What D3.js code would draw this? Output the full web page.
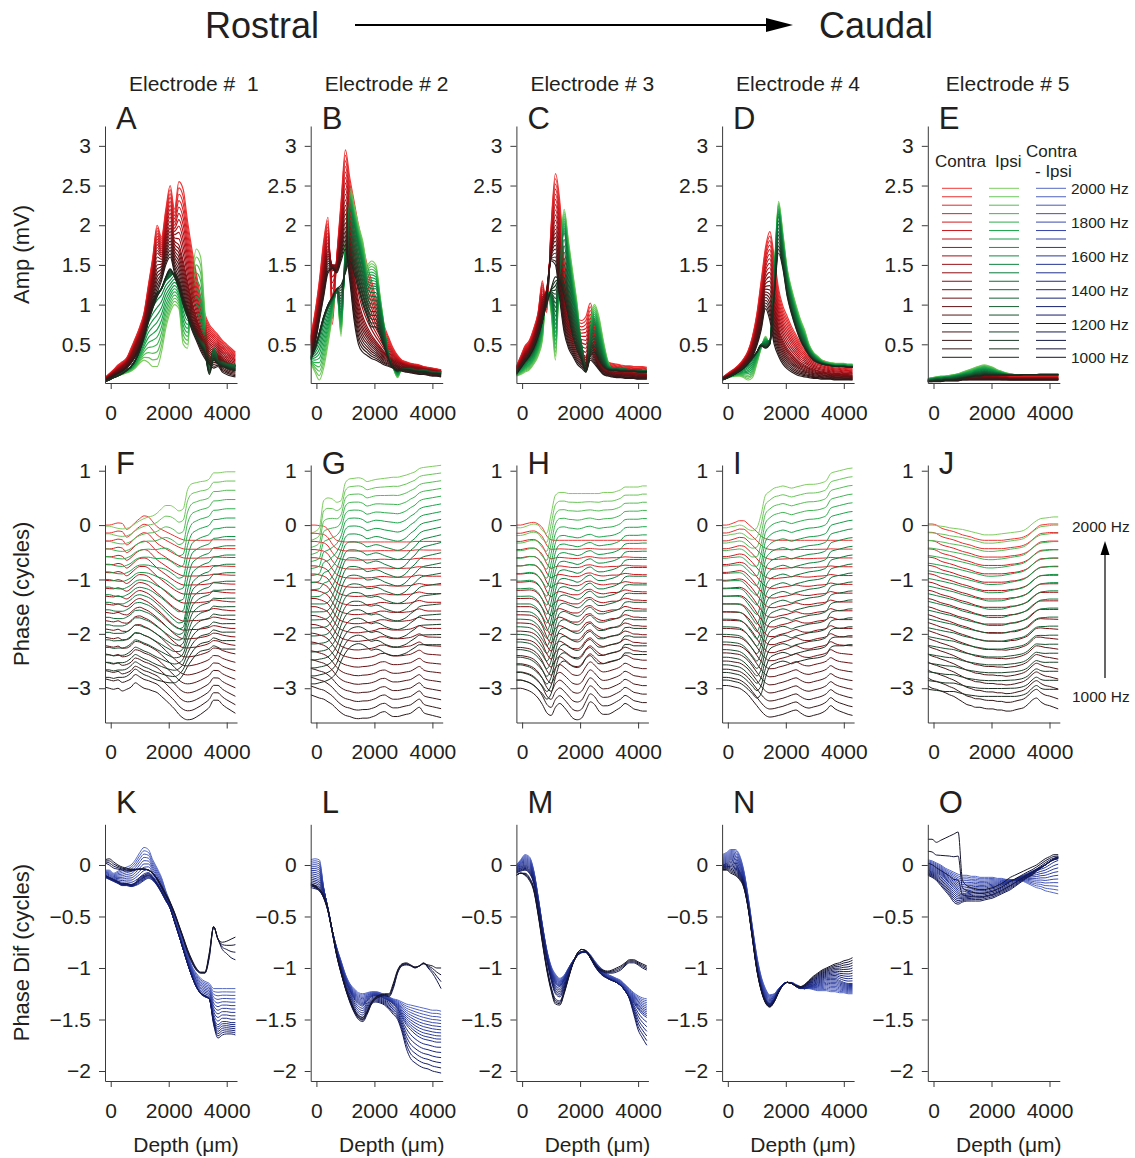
<!DOCTYPE html>
<html>
<head>
<meta charset="utf-8">
<script src="https://cdn.jsdelivr.net/npm/d3@7"></script>
<style>
  body { margin: 0; background: #fff; }
  svg { display: block; font-family: "Liberation Sans", Arial, sans-serif; }
</style>
</head>
<body>
<svg id="chart" width="1135" height="1158"></svg>
<script>
// depth sampling (um) shared by every curve
const depthGrid = [-200,-50,100,250,400,550,700,850,1000,1150,1300,1450,1600,1750,1900,2050,2200,2350,2500,2650,2800,2950,3100,3250,3400,3550,3700,3850,4000,4150,4300];
const freqs = [2000,1950,1900,1850,1800,1750,1700,1650,1600,1550,1500,1450,1400,1350,1300,1250,1200,1150,1100,1050,1000];
const electrodes = ["Electrode #  1","Electrode # 2","Electrode # 3","Electrode # 4","Electrode # 5"];
const ampTicks = [0.5,1,1.5,2,2.5,3];
const phaseTicks = [1,0,-1,-2,-3];
const diffTicks = [0,-0.5,-1,-1.5,-2];
const depthTicks = [0,2000,4000];
const legendHz = [2000,1800,1600,1400,1200,1000];

// ---- amplitude (mV), contra / ipsi
const A_c2000 = [0.08,0.13,0.18,0.24,0.28,0.33,0.45,0.58,0.72,0.9,1.25,1.6,2.0,1.85,2.2,2.5,2.2,2.55,2.45,2.05,1.7,1.4,1.1,0.88,0.75,0.68,0.62,0.55,0.5,0.45,0.4];
const A_c1500 = [0.06,0.1,0.14,0.18,0.22,0.27,0.36,0.48,0.6,0.78,1.05,1.35,1.65,1.6,1.85,2.0,1.8,1.75,1.55,1.3,1.05,0.85,0.68,0.55,0.48,0.44,0.4,0.34,0.3,0.26,0.24];
const A_c1000 = [0.04,0.07,0.1,0.13,0.16,0.2,0.26,0.34,0.45,0.6,0.8,1.0,1.15,1.3,1.5,1.6,1.4,1.25,1.05,0.85,0.68,0.55,0.42,0.32,0.25,0.2,0.22,0.15,0.12,0.1,0.09];
const A_i2000 = [0.04,0.06,0.08,0.1,0.12,0.14,0.16,0.2,0.26,0.3,0.27,0.22,0.22,0.4,0.7,0.9,1.0,0.95,0.5,0.45,1.3,1.7,1.6,0.9,0.35,0.3,0.35,0.28,0.25,0.24,0.22];
const A_i1500 = [0.04,0.06,0.09,0.12,0.15,0.18,0.22,0.3,0.45,0.65,0.9,1.05,1.15,1.2,1.3,1.35,1.4,1.3,1.1,0.95,0.8,0.7,0.6,0.5,0.25,0.45,0.35,0.3,0.27,0.25,0.24];
const A_i1000 = [0.03,0.05,0.08,0.1,0.13,0.17,0.22,0.3,0.42,0.58,0.78,0.95,1.1,1.2,1.35,1.45,1.35,1.2,1.0,0.85,0.7,0.58,0.48,0.38,0.12,0.3,0.25,0.22,0.2,0.18,0.17];

const B_c2000 = [0.6,0.9,1.3,1.8,2.1,0.75,1.6,2.3,2.95,2.6,2.3,2.0,1.75,1.5,1.3,1.08,0.9,0.72,0.58,0.45,0.36,0.3,0.28,0.26,0.25,0.24,0.22,0.21,0.2,0.19,0.18];
const B_c1500 = [0.5,0.7,1.0,1.4,1.7,1.5,1.5,1.9,2.25,1.9,1.4,1.05,0.85,0.72,0.62,0.54,0.47,0.4,0.35,0.3,0.27,0.25,0.23,0.22,0.21,0.2,0.19,0.18,0.17,0.16,0.15];
const B_c1000 = [0.35,0.5,0.8,1.1,1.4,1.45,1.4,1.55,1.7,1.3,0.8,0.5,0.4,0.36,0.32,0.3,0.27,0.24,0.22,0.2,0.18,0.16,0.15,0.14,0.13,0.12,0.12,0.11,0.1,0.1,0.09];
const B_i2000 = [0.26,0.15,0.05,0.2,0.5,0.85,1.2,0.6,1.8,2.5,2.25,2.0,1.8,1.5,1.55,1.5,1.1,0.7,0.35,0.2,0.08,0.2,0.22,0.22,0.21,0.2,0.2,0.19,0.18,0.17,0.16];
const B_i1500 = [0.35,0.45,0.6,0.8,0.95,1.05,1.15,0.9,1.6,2.2,2.0,1.75,1.5,1.25,1.2,1.2,0.95,0.65,0.35,0.22,0.15,0.2,0.2,0.2,0.19,0.18,0.18,0.17,0.16,0.15,0.15];
const B_i1000 = [0.3,0.45,0.65,0.85,1.0,1.1,1.2,1.25,1.4,1.55,1.4,1.2,1.0,0.85,0.72,0.72,0.6,0.45,0.3,0.2,0.17,0.18,0.18,0.17,0.16,0.15,0.15,0.14,0.13,0.13,0.12];

const C_c2000 = [0.22,0.35,0.48,0.55,0.7,0.9,1.3,0.9,2.0,2.65,2.3,1.55,1.15,0.92,0.83,0.8,0.85,1.02,0.8,0.55,0.35,0.28,0.26,0.25,0.24,0.23,0.23,0.22,0.22,0.22,0.21];
const C_c1500 = [0.18,0.28,0.38,0.45,0.58,0.78,1.05,1.2,1.7,2.0,1.7,1.1,0.8,0.6,0.5,0.4,0.35,0.55,0.45,0.3,0.22,0.18,0.16,0.15,0.15,0.14,0.14,0.13,0.13,0.12,0.12];
const C_c1000 = [0.12,0.2,0.28,0.35,0.45,0.6,0.8,1.1,1.55,1.5,1.05,0.65,0.45,0.35,0.25,0.2,0.15,0.3,0.25,0.18,0.12,0.1,0.09,0.08,0.08,0.07,0.07,0.07,0.06,0.06,0.06];
const C_i2000 = [0.1,0.12,0.15,0.18,0.25,0.35,0.55,1.2,0.9,0.3,1.6,2.2,1.8,1.4,1.0,0.45,0.2,0.8,1.0,0.85,0.55,0.3,0.2,0.15,0.13,0.12,0.12,0.12,0.12,0.12,0.12];
const C_i1500 = [0.15,0.2,0.26,0.32,0.4,0.55,0.8,1.15,1.1,0.8,1.5,1.9,1.5,1.1,0.8,0.5,0.25,0.6,0.75,0.55,0.35,0.22,0.2,0.2,0.19,0.19,0.18,0.18,0.18,0.17,0.17];
const C_i1000 = [0.15,0.22,0.3,0.38,0.48,0.62,0.8,1.0,1.2,1.35,1.3,1.1,0.85,0.6,0.42,0.3,0.15,0.35,0.4,0.3,0.22,0.18,0.17,0.17,0.16,0.16,0.16,0.16,0.15,0.15,0.15];

const D_c2000 = [0.08,0.12,0.16,0.2,0.25,0.32,0.42,0.6,0.88,1.3,1.72,1.92,1.6,1.2,0.98,0.85,0.72,0.62,0.52,0.46,0.4,0.35,0.32,0.3,0.28,0.26,0.25,0.24,0.23,0.22,0.22];
const D_c1500 = [0.07,0.1,0.13,0.17,0.21,0.27,0.35,0.48,0.7,1.0,1.3,1.35,1.0,0.7,0.55,0.45,0.38,0.32,0.27,0.24,0.21,0.19,0.17,0.16,0.15,0.14,0.13,0.13,0.12,0.12,0.11];
const D_c1000 = [0.06,0.08,0.1,0.13,0.16,0.2,0.26,0.34,0.48,0.68,0.95,0.8,0.5,0.35,0.25,0.19,0.15,0.12,0.1,0.09,0.08,0.07,0.07,0.06,0.06,0.06,0.05,0.05,0.05,0.05,0.05];
const D_i2000 = [0.05,0.07,0.09,0.1,0.1,0.08,0.05,0.08,0.25,0.45,0.6,0.5,1.4,2.3,1.9,1.45,1.2,1.0,0.82,0.68,0.5,0.4,0.35,0.3,0.28,0.27,0.26,0.26,0.26,0.25,0.25];
const D_i1500 = [0.05,0.08,0.1,0.13,0.16,0.2,0.25,0.32,0.4,0.5,0.52,0.55,1.3,2.1,1.7,1.3,1.05,0.85,0.68,0.55,0.42,0.35,0.3,0.27,0.25,0.24,0.23,0.23,0.23,0.22,0.22];
const D_i1000 = [0.05,0.07,0.1,0.13,0.17,0.21,0.27,0.33,0.4,0.48,0.45,0.5,1.1,1.65,1.45,1.1,0.88,0.7,0.55,0.45,0.36,0.3,0.27,0.25,0.24,0.23,0.22,0.22,0.22,0.21,0.21];

const E_c2000 = [0.06,0.07,0.08,0.08,0.09,0.09,0.1,0.1,0.11,0.12,0.13,0.14,0.15,0.15,0.15,0.14,0.13,0.12,0.11,0.1,0.1,0.1,0.1,0.1,0.1,0.1,0.1,0.1,0.1,0.1,0.1];
const E_c1500 = [0.04,0.05,0.05,0.06,0.06,0.06,0.07,0.07,0.08,0.08,0.09,0.09,0.1,0.1,0.1,0.09,0.09,0.08,0.08,0.07,0.07,0.07,0.07,0.07,0.07,0.07,0.07,0.07,0.07,0.07,0.07];
const E_c1000 = [0.03,0.03,0.03,0.03,0.04,0.04,0.04,0.04,0.05,0.05,0.05,0.05,0.05,0.05,0.05,0.05,0.05,0.05,0.05,0.05,0.05,0.05,0.05,0.05,0.05,0.05,0.05,0.05,0.05,0.05,0.05];
const E_i2000 = [0.07,0.08,0.09,0.1,0.1,0.11,0.12,0.13,0.15,0.17,0.19,0.21,0.23,0.24,0.23,0.21,0.18,0.16,0.14,0.13,0.12,0.12,0.12,0.12,0.12,0.12,0.13,0.13,0.13,0.13,0.13];
const E_i1500 = [0.05,0.06,0.07,0.07,0.08,0.08,0.09,0.1,0.11,0.12,0.13,0.15,0.16,0.17,0.16,0.15,0.14,0.13,0.12,0.11,0.11,0.11,0.11,0.11,0.11,0.11,0.11,0.11,0.11,0.11,0.11];
const E_i1000 = [0.03,0.03,0.04,0.04,0.05,0.05,0.05,0.06,0.07,0.08,0.09,0.1,0.1,0.11,0.11,0.11,0.11,0.11,0.11,0.11,0.11,0.11,0.12,0.12,0.12,0.12,0.12,0.12,0.12,0.12,0.12];

// ---- phase (cycles), contra / ipsi
const F_c2000 = [0,0,0.02,0.04,0.03,-0.08,-0.03,0.05,0.12,0.17,0.15,0.06,-0.03,-0.08,-0.12,-0.16,-0.2,-0.24,-0.27,-0.28,-0.28,-0.28,-0.28,-0.28,-0.28,-0.27,-0.27,-0.27,-0.27,-0.27,-0.27];
const F_c1500 = [-1.45,-1.46,-1.47,-1.45,-1.48,-1.5,-1.45,-1.38,-1.35,-1.38,-1.42,-1.48,-1.55,-1.62,-1.7,-1.78,-1.85,-1.9,-1.93,-1.93,-1.92,-1.92,-1.91,-1.9,-1.88,-1.85,-1.86,-1.88,-1.89,-1.9,-1.9];
const F_c1000 = [-2.98,-3.0,-3.02,-3.0,-3.05,-3.02,-2.98,-2.9,-2.95,-3.0,-3.02,-3.05,-3.08,-3.15,-3.22,-3.3,-3.38,-3.48,-3.55,-3.58,-3.57,-3.53,-3.48,-3.42,-3.35,-3.22,-3.22,-3.3,-3.36,-3.41,-3.46];
const F_i2000 = [-0.02,-0.02,-0.04,-0.06,-0.07,-0.06,-0.03,0.03,0.08,0.12,0.15,0.17,0.22,0.3,0.36,0.36,0.32,0.26,0.3,0.65,0.76,0.78,0.8,0.81,0.85,0.96,0.96,0.97,0.98,0.98,0.98];
const F_i1500 = [-1.42,-1.42,-1.44,-1.45,-1.45,-1.42,-1.37,-1.3,-1.28,-1.3,-1.33,-1.38,-1.45,-1.52,-1.6,-1.68,-1.75,-1.8,-1.78,-1.4,-1.08,-0.98,-0.92,-0.88,-0.85,-0.76,-0.75,-0.73,-0.72,-0.72,-0.72];
const F_i1000 = [-2.8,-2.8,-2.82,-2.8,-2.8,-2.78,-2.72,-2.65,-2.7,-2.75,-2.78,-2.82,-2.85,-2.87,-2.89,-2.9,-2.9,-2.85,-2.75,-2.6,-2.48,-2.38,-2.32,-2.3,-2.28,-2.22,-2.25,-2.28,-2.28,-2.28,-2.28];

const G_c2000 = [0,0,-0.01,-0.02,-0.08,-0.2,-0.28,-0.3,-0.31,-0.31,-0.31,-0.31,-0.31,-0.31,-0.31,-0.31,-0.31,-0.31,-0.31,-0.31,-0.31,-0.31,-0.31,-0.31,-0.3,-0.3,-0.3,-0.3,-0.3,-0.3,-0.3];
const G_c1500 = [-1.5,-1.5,-1.52,-1.55,-1.6,-1.72,-1.85,-1.92,-1.95,-1.97,-1.98,-1.98,-1.97,-1.96,-1.95,-1.93,-1.9,-1.9,-1.92,-1.93,-1.93,-1.93,-1.92,-1.91,-1.88,-1.85,-1.88,-1.9,-1.9,-1.9,-1.9];
const G_c1000 = [-3.12,-3.15,-3.18,-3.2,-3.25,-3.3,-3.38,-3.45,-3.5,-3.52,-3.55,-3.56,-3.55,-3.55,-3.53,-3.5,-3.45,-3.43,-3.48,-3.52,-3.52,-3.5,-3.48,-3.46,-3.4,-3.35,-3.45,-3.48,-3.5,-3.52,-3.54];
const G_i2000 = [-0.15,-0.12,-0.05,0.45,0.5,0.48,0.42,0.45,0.78,0.85,0.86,0.87,0.85,0.8,0.82,0.84,0.85,0.86,0.87,0.88,0.88,0.9,0.92,0.95,0.98,1.04,1.06,1.07,1.08,1.09,1.1];
const G_i1500 = [-1.45,-1.45,-1.45,-1.45,-1.42,-1.3,-1.1,-0.85,-0.65,-0.6,-0.6,-0.62,-0.65,-0.7,-0.68,-0.66,-0.68,-0.72,-0.75,-0.78,-0.8,-0.78,-0.72,-0.62,-0.55,-0.45,-0.4,-0.38,-0.36,-0.34,-0.32];
const G_i1000 = [-2.92,-2.92,-2.9,-2.88,-2.85,-2.8,-2.7,-2.5,-2.35,-2.25,-2.2,-2.18,-2.2,-2.25,-2.3,-2.28,-2.3,-2.35,-2.38,-2.4,-2.4,-2.38,-2.35,-2.3,-2.25,-2.2,-2.2,-2.2,-2.2,-2.2,-2.2];

const H_c2000 = [0,0,0.02,0.04,0.05,0.02,-0.05,-0.2,-0.27,-0.28,-0.28,-0.28,-0.28,-0.28,-0.28,-0.28,-0.28,-0.28,-0.28,-0.28,-0.28,-0.28,-0.28,-0.28,-0.28,-0.28,-0.28,-0.28,-0.28,-0.28,-0.28];
const H_c1500 = [-1.5,-1.5,-1.5,-1.5,-1.52,-1.58,-1.7,-1.9,-2.02,-1.9,-1.85,-1.88,-1.92,-1.95,-1.95,-1.9,-1.8,-1.78,-1.85,-1.9,-1.92,-1.9,-1.88,-1.88,-1.85,-1.8,-1.82,-1.85,-1.85,-1.86,-1.86];
const H_c1000 = [-3.0,-3.0,-3.02,-3.05,-3.1,-3.18,-3.3,-3.45,-3.5,-3.35,-3.28,-3.35,-3.45,-3.55,-3.58,-3.55,-3.4,-3.25,-3.3,-3.42,-3.48,-3.48,-3.45,-3.4,-3.35,-3.28,-3.32,-3.38,-3.4,-3.42,-3.42];
const H_i2000 = [-0.05,-0.05,-0.03,0.0,0.02,0.0,-0.1,-0.15,0.2,0.55,0.6,0.6,0.58,0.58,0.58,0.58,0.58,0.58,0.58,0.58,0.6,0.6,0.6,0.62,0.65,0.7,0.7,0.7,0.7,0.72,0.72];
const H_i1500 = [-1.45,-1.45,-1.45,-1.45,-1.48,-1.55,-1.68,-1.8,-1.6,-1.2,-1.0,-0.98,-1.0,-1.02,-1.05,-1.02,-0.95,-0.92,-0.98,-1.02,-1.02,-1.0,-0.98,-0.95,-0.9,-0.8,-0.78,-0.78,-0.78,-0.78,-0.78];
const H_i1000 = [-2.85,-2.85,-2.87,-2.9,-2.95,-3.02,-3.1,-3.2,-3.1,-2.8,-2.55,-2.5,-2.55,-2.6,-2.62,-2.58,-2.45,-2.4,-2.48,-2.55,-2.55,-2.52,-2.5,-2.48,-2.45,-2.35,-2.35,-2.38,-2.38,-2.38,-2.38];

const I_c2000 = [0,0,0.02,0.05,0.08,0.08,0.02,-0.05,-0.12,-0.2,-0.25,-0.27,-0.28,-0.28,-0.28,-0.28,-0.28,-0.28,-0.28,-0.28,-0.28,-0.28,-0.28,-0.28,-0.28,-0.28,-0.28,-0.28,-0.28,-0.28,-0.28];
const I_c1500 = [-1.45,-1.45,-1.45,-1.45,-1.45,-1.48,-1.55,-1.65,-1.78,-1.9,-2.0,-2.05,-2.05,-2.02,-2.0,-1.98,-1.95,-1.92,-1.95,-1.97,-1.97,-1.95,-1.93,-1.92,-1.9,-1.85,-1.88,-1.9,-1.9,-1.9,-1.9];
const I_c1000 = [-2.95,-2.95,-2.96,-2.98,-3.0,-3.05,-3.12,-3.22,-3.32,-3.42,-3.5,-3.53,-3.52,-3.5,-3.48,-3.45,-3.42,-3.4,-3.45,-3.5,-3.52,-3.5,-3.48,-3.45,-3.4,-3.32,-3.38,-3.42,-3.45,-3.48,-3.5];
const I_i2000 = [-0.05,-0.05,-0.03,-0.02,0.0,-0.02,-0.08,-0.1,-0.05,0.2,0.55,0.62,0.68,0.7,0.72,0.7,0.68,0.7,0.72,0.74,0.75,0.75,0.76,0.78,0.82,0.95,0.98,1.0,1.02,1.04,1.05];
const I_i1500 = [-1.45,-1.45,-1.45,-1.45,-1.46,-1.5,-1.6,-1.72,-1.82,-1.6,-1.15,-1.0,-0.95,-0.92,-0.9,-0.92,-0.95,-0.92,-0.9,-0.88,-0.86,-0.85,-0.84,-0.82,-0.78,-0.65,-0.62,-0.6,-0.58,-0.56,-0.55];
const I_i1000 = [-2.85,-2.85,-2.86,-2.88,-2.9,-2.95,-3.02,-3.1,-3.18,-3.1,-2.8,-2.6,-2.55,-2.52,-2.5,-2.52,-2.55,-2.52,-2.5,-2.48,-2.46,-2.45,-2.44,-2.42,-2.38,-2.25,-2.22,-2.22,-2.22,-2.2,-2.2];

const J_c2000 = [0.02,0.02,0.0,-0.05,-0.08,-0.1,-0.12,-0.15,-0.18,-0.2,-0.22,-0.25,-0.27,-0.28,-0.28,-0.28,-0.28,-0.28,-0.27,-0.26,-0.25,-0.24,-0.22,-0.18,-0.12,-0.05,0.0,0.01,0.02,0.02,0.02];
const J_c1500 = [-1.5,-1.52,-1.55,-1.58,-1.6,-1.62,-1.65,-1.68,-1.7,-1.72,-1.75,-1.78,-1.8,-1.82,-1.82,-1.82,-1.82,-1.82,-1.82,-1.8,-1.8,-1.78,-1.75,-1.72,-1.65,-1.58,-1.55,-1.55,-1.55,-1.55,-1.55];
const J_c1000 = [-2.95,-3.0,-3.02,-3.05,-3.08,-3.12,-3.15,-3.2,-3.25,-3.3,-3.32,-3.35,-3.35,-3.37,-3.38,-3.38,-3.4,-3.4,-3.42,-3.42,-3.4,-3.38,-3.36,-3.3,-3.22,-3.18,-3.25,-3.3,-3.32,-3.35,-3.38];
const J_i2000 = [0.0,0.0,-0.01,-0.02,-0.03,-0.05,-0.06,-0.07,-0.08,-0.1,-0.12,-0.14,-0.16,-0.18,-0.18,-0.18,-0.17,-0.16,-0.15,-0.14,-0.13,-0.12,-0.1,-0.05,0.02,0.08,0.12,0.13,0.14,0.15,0.15];
const J_i1500 = [-1.4,-1.42,-1.44,-1.46,-1.48,-1.5,-1.52,-1.55,-1.58,-1.6,-1.62,-1.64,-1.66,-1.68,-1.7,-1.7,-1.7,-1.7,-1.68,-1.66,-1.64,-1.62,-1.6,-1.55,-1.48,-1.42,-1.38,-1.37,-1.36,-1.36,-1.36];
const J_i1000 = [-3.02,-3.03,-3.04,-3.05,-3.06,-3.06,-3.06,-3.08,-3.1,-3.12,-3.13,-3.14,-3.15,-3.15,-3.15,-3.15,-3.15,-3.15,-3.15,-3.15,-3.15,-3.14,-3.12,-3.08,-3.0,-2.95,-3.0,-3.02,-3.02,-3.02,-3.02];

// ---- phase difference contra - ipsi (cycles)
const K_d2000 = [-0.05,-0.05,-0.08,-0.06,-0.04,-0.02,0.0,0.05,0.12,0.17,0.15,0.05,-0.03,-0.12,-0.25,-0.36,-0.5,-0.62,-0.74,-0.86,-0.98,-1.05,-1.1,-1.13,-1.15,-1.2,-1.2,-1.2,-1.2,-1.2,-1.2];
const K_d1500 = [-0.12,-0.14,-0.16,-0.18,-0.2,-0.2,-0.21,-0.2,-0.18,-0.15,-0.13,-0.15,-0.2,-0.27,-0.35,-0.42,-0.55,-0.68,-0.82,-0.95,-1.08,-1.18,-1.25,-1.28,-1.3,-1.48,-1.55,-1.52,-1.52,-1.53,-1.53];
const K_d1200 = [-0.1,-0.12,-0.14,-0.16,-0.18,-0.18,-0.19,-0.17,-0.12,-0.1,-0.08,-0.12,-0.18,-0.25,-0.33,-0.42,-0.55,-0.68,-0.82,-0.96,-1.08,-1.18,-1.24,-1.27,-1.3,-1.55,-1.68,-1.65,-1.64,-1.64,-1.65];
const K_d1150 = [0.02,0.0,-0.03,-0.04,-0.05,-0.06,-0.06,-0.05,-0.04,-0.04,-0.05,-0.08,-0.14,-0.22,-0.3,-0.38,-0.48,-0.6,-0.72,-0.85,-0.95,-1.02,-1.05,-1.05,-0.9,-0.6,-0.72,-0.82,-0.86,-0.9,-0.92];
const K_d1000 = [0.05,0.06,0.03,0.0,-0.02,-0.03,-0.04,-0.04,-0.04,-0.04,-0.05,-0.08,-0.13,-0.2,-0.28,-0.36,-0.46,-0.58,-0.7,-0.82,-0.92,-1.0,-1.04,-1.04,-0.85,-0.6,-0.72,-0.75,-0.74,-0.72,-0.7];

const L_d2000 = [0.05,0.06,0.05,-0.22,-0.44,-0.64,-0.8,-0.93,-1.06,-1.15,-1.2,-1.24,-1.25,-1.24,-1.23,-1.23,-1.24,-1.26,-1.28,-1.3,-1.31,-1.33,-1.35,-1.36,-1.37,-1.38,-1.39,-1.4,-1.41,-1.41,-1.42];
const L_d1500 = [-0.12,-0.13,-0.15,-0.25,-0.42,-0.64,-0.83,-0.98,-1.12,-1.22,-1.3,-1.35,-1.37,-1.32,-1.28,-1.27,-1.28,-1.3,-1.32,-1.35,-1.4,-1.48,-1.55,-1.6,-1.64,-1.67,-1.69,-1.7,-1.71,-1.72,-1.72];
const L_d1200 = [-0.22,-0.23,-0.25,-0.32,-0.45,-0.66,-0.88,-1.05,-1.2,-1.32,-1.42,-1.48,-1.5,-1.42,-1.35,-1.33,-1.34,-1.36,-1.4,-1.45,-1.5,-1.62,-1.78,-1.88,-1.92,-1.95,-1.97,-1.98,-2.0,-2.01,-2.02];
const L_d1150 = [-0.2,-0.22,-0.25,-0.32,-0.45,-0.66,-0.88,-1.05,-1.2,-1.33,-1.43,-1.5,-1.52,-1.45,-1.35,-1.3,-1.28,-1.27,-1.28,-1.2,-1.05,-0.98,-0.97,-0.98,-1.0,-0.98,-0.95,-1.0,-1.05,-1.12,-1.2];
const L_d1000 = [-0.18,-0.2,-0.23,-0.3,-0.43,-0.64,-0.86,-1.03,-1.18,-1.3,-1.4,-1.46,-1.48,-1.42,-1.33,-1.28,-1.26,-1.25,-1.25,-1.15,-1.02,-0.96,-0.95,-0.97,-0.99,-0.98,-0.96,-0.97,-0.98,-1.0,-1.0];

const M_d2000 = [0.0,0.05,0.1,0.08,-0.05,-0.3,-0.58,-0.82,-0.98,-1.06,-1.1,-1.07,-1.0,-0.93,-0.88,-0.85,-0.84,-0.87,-0.93,-0.98,-1.02,-1.06,-1.08,-1.1,-1.12,-1.16,-1.2,-1.24,-1.27,-1.29,-1.3];
const M_d1500 = [-0.05,-0.02,0.0,-0.02,-0.12,-0.35,-0.62,-0.87,-1.05,-1.15,-1.18,-1.12,-1.02,-0.94,-0.88,-0.85,-0.85,-0.9,-0.96,-1.02,-1.06,-1.1,-1.12,-1.14,-1.17,-1.22,-1.28,-1.34,-1.4,-1.45,-1.48];
const M_d1200 = [-0.08,-0.06,-0.05,-0.08,-0.18,-0.4,-0.68,-0.92,-1.12,-1.25,-1.28,-1.2,-1.08,-0.96,-0.88,-0.84,-0.84,-0.9,-0.98,-1.04,-1.08,-1.1,-1.12,-1.14,-1.17,-1.22,-1.3,-1.45,-1.6,-1.68,-1.75];
const M_d1150 = [-0.1,-0.08,-0.08,-0.12,-0.22,-0.45,-0.72,-0.98,-1.18,-1.3,-1.32,-1.22,-1.08,-0.95,-0.86,-0.82,-0.84,-0.9,-0.97,-1.02,-1.04,-1.05,-1.05,-1.04,-1.02,-0.98,-0.95,-0.95,-0.97,-1.0,-1.02];
const M_d1000 = [-0.1,-0.08,-0.1,-0.15,-0.25,-0.48,-0.76,-1.02,-1.22,-1.35,-1.36,-1.25,-1.1,-0.96,-0.86,-0.82,-0.83,-0.88,-0.95,-1.0,-1.02,-1.03,-1.02,-1.0,-0.98,-0.95,-0.92,-0.92,-0.94,-0.96,-0.98];

const N_d2000 = [0.1,0.12,0.15,0.15,0.1,-0.05,-0.3,-0.6,-0.88,-1.08,-1.2,-1.26,-1.25,-1.2,-1.16,-1.14,-1.14,-1.16,-1.18,-1.2,-1.2,-1.21,-1.22,-1.22,-1.22,-1.23,-1.23,-1.24,-1.24,-1.25,-1.25];
const N_d1500 = [0.0,0.02,0.05,0.02,-0.05,-0.15,-0.38,-0.68,-0.98,-1.18,-1.3,-1.34,-1.3,-1.22,-1.16,-1.14,-1.15,-1.18,-1.2,-1.2,-1.18,-1.16,-1.14,-1.12,-1.1,-1.1,-1.1,-1.12,-1.14,-1.15,-1.15];
const N_d1000 = [-0.05,-0.05,-0.08,-0.1,-0.14,-0.22,-0.42,-0.72,-1.02,-1.22,-1.34,-1.38,-1.33,-1.24,-1.17,-1.14,-1.15,-1.17,-1.18,-1.16,-1.12,-1.08,-1.05,-1.02,-1.0,-0.98,-0.96,-0.95,-0.93,-0.92,-0.9];

const O_d2000 = [0.05,0.04,0.02,0.0,-0.03,-0.05,-0.07,-0.09,-0.1,-0.1,-0.11,-0.11,-0.12,-0.12,-0.12,-0.12,-0.13,-0.13,-0.14,-0.14,-0.15,-0.15,-0.16,-0.18,-0.2,-0.22,-0.23,-0.25,-0.26,-0.27,-0.28];
const O_d1500 = [-0.05,-0.06,-0.08,-0.1,-0.14,-0.18,-0.22,-0.26,-0.28,-0.27,-0.26,-0.25,-0.25,-0.25,-0.24,-0.23,-0.22,-0.2,-0.18,-0.16,-0.14,-0.12,-0.1,-0.08,-0.06,-0.04,-0.02,0.0,0.03,0.06,0.08];
const O_d1150 = [-0.1,-0.12,-0.15,-0.2,-0.25,-0.3,-0.36,-0.38,-0.36,-0.35,-0.35,-0.35,-0.35,-0.34,-0.33,-0.32,-0.3,-0.28,-0.26,-0.24,-0.21,-0.18,-0.15,-0.12,-0.1,-0.06,-0.03,0.0,0.03,0.05,0.06];
const O_d1000 = [0.25,0.25,0.22,0.24,0.26,0.28,0.3,0.32,-0.15,-0.2,-0.22,-0.23,-0.24,-0.24,-0.23,-0.22,-0.2,-0.18,-0.15,-0.12,-0.1,-0.08,-0.06,-0.04,-0.02,0.0,0.03,0.06,0.08,0.1,0.1];

// colour ramps, low -> high frequency
const rampFreqs = [1000,1250,1500,1750,2000];
const contraRamp = ["#2a1a1a","#5a1416","#8c0c12","#c8141c","#f03636"];
const ipsiRamp = ["#1c2a1e","#1a5230","#0a7a3c","#18a54a","#7dcd5e"];
const diffRamp = ["#15152a","#141c6a","#1f2f8c","#3242a8","#5669c4"];

const colour = {
  contra: d3.scaleLinear().domain(rampFreqs).range(contraRamp),
  ipsi: d3.scaleLinear().domain(rampFreqs).range(ipsiRamp),
  diff: d3.scaleLinear().domain(rampFreqs).range(diffRamp)
};

const k3 = [1000,1500,2000];
const k5 = [1000,1150,1200,1500,2000];
const panels = [
  {row:0,col:0,letter:"A",series:[{kind:"contra",keys:k3,curves:[A_c1000,A_c1500,A_c2000]},{kind:"ipsi",keys:k3,curves:[A_i1000,A_i1500,A_i2000]}]},
  {row:0,col:1,letter:"B",series:[{kind:"contra",keys:k3,curves:[B_c1000,B_c1500,B_c2000]},{kind:"ipsi",keys:k3,curves:[B_i1000,B_i1500,B_i2000]}]},
  {row:0,col:2,letter:"C",series:[{kind:"contra",keys:k3,curves:[C_c1000,C_c1500,C_c2000]},{kind:"ipsi",keys:k3,curves:[C_i1000,C_i1500,C_i2000]}]},
  {row:0,col:3,letter:"D",series:[{kind:"contra",keys:k3,curves:[D_c1000,D_c1500,D_c2000]},{kind:"ipsi",keys:k3,curves:[D_i1000,D_i1500,D_i2000]}]},
  {row:0,col:4,letter:"E",series:[{kind:"contra",keys:k3,curves:[E_c1000,E_c1500,E_c2000]},{kind:"ipsi",keys:k3,curves:[E_i1000,E_i1500,E_i2000]}]},
  {row:1,col:0,letter:"F",series:[{kind:"contra",keys:k3,curves:[F_c1000,F_c1500,F_c2000]},{kind:"ipsi",keys:k3,curves:[F_i1000,F_i1500,F_i2000]}]},
  {row:1,col:1,letter:"G",series:[{kind:"contra",keys:k3,curves:[G_c1000,G_c1500,G_c2000]},{kind:"ipsi",keys:k3,curves:[G_i1000,G_i1500,G_i2000]}]},
  {row:1,col:2,letter:"H",series:[{kind:"contra",keys:k3,curves:[H_c1000,H_c1500,H_c2000]},{kind:"ipsi",keys:k3,curves:[H_i1000,H_i1500,H_i2000]}]},
  {row:1,col:3,letter:"I",series:[{kind:"contra",keys:k3,curves:[I_c1000,I_c1500,I_c2000]},{kind:"ipsi",keys:k3,curves:[I_i1000,I_i1500,I_i2000]}]},
  {row:1,col:4,letter:"J",series:[{kind:"contra",keys:k3,curves:[J_c1000,J_c1500,J_c2000]},{kind:"ipsi",keys:k3,curves:[J_i1000,J_i1500,J_i2000]}]},
  {row:2,col:0,letter:"K",series:[{kind:"diff",keys:k5,curves:[K_d1000,K_d1150,K_d1200,K_d1500,K_d2000]}]},
  {row:2,col:1,letter:"L",series:[{kind:"diff",keys:k5,curves:[L_d1000,L_d1150,L_d1200,L_d1500,L_d2000]}]},
  {row:2,col:2,letter:"M",series:[{kind:"diff",keys:k5,curves:[M_d1000,M_d1150,M_d1200,M_d1500,M_d2000]}]},
  {row:2,col:3,letter:"N",series:[{kind:"diff",keys:k3,curves:[N_d1000,N_d1500,N_d2000]}]},
  {row:2,col:4,letter:"O",series:[{kind:"diff",keys:[1000,1150,1500,2000],curves:[O_d1000,O_d1150,O_d1500,O_d2000]}]}
];

// layout
const colX = [105, 310.7, 516.4, 722.1, 927.8];
const plotW = 132;
const rows = [
  {domain:[0.0126,3.25], range:[383,126], ticks:ampTicks, label:"Amp (mV)", letterY:129, width:1.15},
  {domain:[-3.63,1.105], range:[722.5,465], ticks:phaseTicks, label:"Phase (cycles)", letterY:474, width:1},
  {domain:[-2.097,0.395], range:[1081,824.3], ticks:diffTicks, label:"Phase Dif (cycles)", letterY:813, width:1}
];
const ink = "#231f20";
const svg = d3.select("#chart");
svg.append("rect").attr("width",1135).attr("height",1158).attr("fill","#fff");

function curveFor(s, f) {
  const i = d3.bisectLeft(s.keys, f);
  if (s.keys[i] === f) return s.curves[i];
  const k0 = s.keys[i-1], k1 = s.keys[i];
  return d3.interpolateNumberArray(s.curves[i-1], s.curves[i])((f - k0) / (k1 - k0));
}

const fmt = d3.format("");

panels.forEach(p => {
  const r = rows[p.row];
  const x0 = colX[p.col];
  const x = d3.scaleLinear().domain([-197, 4355]).range([x0, x0 + plotW]);
  const y = d3.scaleLinear().domain(r.domain).range(r.range);
  const g = svg.append("g");
  const clipId = "clip" + p.letter;
  svg.append("clipPath").attr("id", clipId).append("rect")
    .attr("x", x0).attr("y", r.range[1] - 4).attr("width", plotW + 2).attr("height", r.range[0] - r.range[1] + 6);

  const line = d3.line().x((d, i) => x(depthGrid[i])).y(d => y(d)).curve(d3.curveMonotoneX);
  const lines = g.append("g").attr("clip-path", `url(#${clipId})`).attr("fill", "none");
  freqs.forEach(f => {
    p.series.forEach(s => {
      lines.append("path")
        .attr("d", line(curveFor(s, f)))
        .attr("stroke", colour[s.kind](f))
        .attr("stroke-width", r.width);
    });
  });

  const ya = g.append("g").attr("transform", `translate(${x0},0)`)
    .call(d3.axisLeft(y).tickValues(r.ticks).tickFormat(fmt).tickSize(6).tickSizeOuter(0).tickPadding(8));
  const xa = g.append("g").attr("transform", `translate(0,${r.range[0]})`)
    .call(d3.axisBottom(x).tickValues(depthTicks).tickFormat(fmt).tickSize(6).tickSizeOuter(0).tickPadding(16));
  [ya, xa].forEach(a => {
    a.selectAll("path,line").attr("stroke", "#3a3a3a");
    a.selectAll("text").attr("fill", ink).attr("font-size", 21).attr("font-family", null);
  });

  g.append("text").attr("x", x0 + 11).attr("y", r.letterY)
    .attr("font-size", 31).attr("fill", ink).text(p.letter);
});

// row labels
rows.forEach(r => {
  const cy = (r.range[0] + r.range[1]) / 2;
  svg.append("text").attr("transform", `translate(29,${cy}) rotate(-90)`)
    .attr("text-anchor", "middle").attr("font-size", 22).attr("fill", ink).text(r.label);
});

// depth labels
colX.forEach(x0 => {
  svg.append("text").attr("x", x0 + 81).attr("y", 1152).attr("text-anchor", "middle")
    .attr("font-size", 21).attr("fill", ink).text("Depth (\u03bcm)");
});

// electrode headings
const headStart = [24, 14, 14, 14, 18];
electrodes.forEach((t, i) => {
  svg.append("text").attr("x", colX[i] + headStart[i]).attr("y", 91)
    .attr("font-size", 21).attr("fill", ink).style("white-space", "pre").text(t);
});

// Rostral -> Caudal
svg.append("text").attr("x", 262).attr("y", 38).attr("text-anchor", "middle")
  .attr("font-size", 36).attr("fill", ink).text("Rostral");
svg.append("text").attr("x", 876).attr("y", 38).attr("text-anchor", "middle")
  .attr("font-size", 36).attr("fill", ink).text("Caudal");
svg.append("line").attr("x1", 355).attr("x2", 776).attr("y1", 25).attr("y2", 25)
  .attr("stroke", "#000").attr("stroke-width", 2);
svg.append("path").attr("d", "M793,25 L766,18 L766,32 Z").attr("fill", "#000");

// legend in panel E
const leg = svg.append("g");
const legY = d3.scaleLinear().domain([2000, 1000]).range([188.3, 357.3]);
const legCols = [{kind:"contra", x:942}, {kind:"ipsi", x:989}, {kind:"diff", x:1036}];
legCols.forEach(c => {
  freqs.forEach(f => {
    leg.append("line").attr("x1", c.x).attr("x2", c.x + 30)
      .attr("y1", legY(f)).attr("y2", legY(f))
      .attr("stroke", colour[c.kind](f)).attr("stroke-width", 1);
  });
});
leg.append("text").attr("x", 935).attr("y", 167).attr("font-size", 17).attr("fill", ink).text("Contra");
leg.append("text").attr("x", 995).attr("y", 167).attr("font-size", 17).attr("fill", ink).text("Ipsi");
leg.append("text").attr("x", 1026).attr("y", 157).attr("font-size", 17).attr("fill", ink).text("Contra");
leg.append("text").attr("x", 1035).attr("y", 177).attr("font-size", 17).attr("fill", ink).text("- Ipsi");
legendHz.forEach(f => {
  leg.append("text").attr("x", 1071).attr("y", legY(f) + 6).attr("font-size", 15.5)
    .attr("fill", ink).text(f + " Hz");
});

// frequency arrow beside J
svg.append("text").attr("x", 1072).attr("y", 532).attr("font-size", 15.5).attr("fill", ink).text("2000 Hz");
svg.append("text").attr("x", 1072).attr("y", 702).attr("font-size", 15.5).attr("fill", ink).text("1000 Hz");
svg.append("line").attr("x1", 1105).attr("x2", 1105).attr("y1", 678).attr("y2", 553)
  .attr("stroke", "#000").attr("stroke-width", 1.2);
svg.append("path").attr("d", "M1105,541 L1100.5,555 L1109.5,555 Z").attr("fill", "#000");
</script>
</body>
</html>
